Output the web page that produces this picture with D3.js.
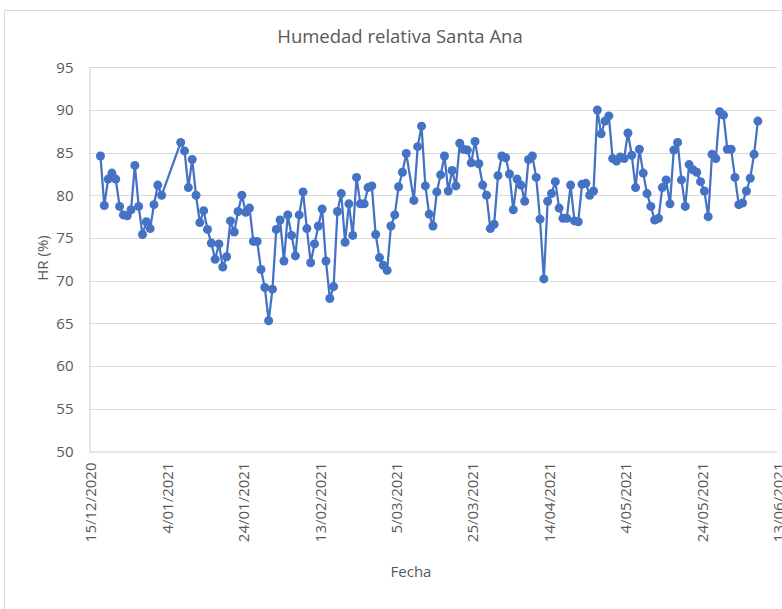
<!DOCTYPE html>
<html>
<head>
<meta charset="utf-8">
<script src="https://cdn.jsdelivr.net/npm/d3@7"></script>
<style>
  body { margin: 0; background: #fff; }
  svg { display: block; font-family: "Open Sans", "Liberation Sans", sans-serif; }
</style>
</head>
<body>
<svg id="chart" width="782" height="609"></svg>
<script>
const WIDTH = 782;
const HEIGHT = 609;
const MARGIN = {top: 67.3, right: 5, bottom: 157.7, left: 89};

// fechas de medición (faltan 4-7 ene y 9 mar)
const fechas = [
  "2020-12-18","2020-12-19","2020-12-20","2020-12-21","2020-12-22","2020-12-23","2020-12-24","2020-12-25",
  "2020-12-26","2020-12-27","2020-12-28","2020-12-29","2020-12-30","2020-12-31",
  "2021-01-01","2021-01-02","2021-01-03",
  "2021-01-08","2021-01-09","2021-01-10","2021-01-11","2021-01-12","2021-01-13","2021-01-14","2021-01-15",
  "2021-01-16","2021-01-17","2021-01-18","2021-01-19","2021-01-20","2021-01-21","2021-01-22","2021-01-23",
  "2021-01-24","2021-01-25","2021-01-26","2021-01-27","2021-01-28","2021-01-29","2021-01-30","2021-01-31",
  "2021-02-01","2021-02-02","2021-02-03","2021-02-04","2021-02-05","2021-02-06","2021-02-07","2021-02-08",
  "2021-02-09","2021-02-10","2021-02-11","2021-02-12","2021-02-13","2021-02-14","2021-02-15","2021-02-16",
  "2021-02-17","2021-02-18","2021-02-19","2021-02-20","2021-02-21","2021-02-22","2021-02-23","2021-02-24",
  "2021-02-25","2021-02-26","2021-02-27","2021-02-28",
  "2021-03-01","2021-03-02","2021-03-03","2021-03-04","2021-03-05","2021-03-06","2021-03-07","2021-03-08",
  "2021-03-10","2021-03-11","2021-03-12","2021-03-13","2021-03-14","2021-03-15","2021-03-16","2021-03-17",
  "2021-03-18","2021-03-19","2021-03-20","2021-03-21","2021-03-22","2021-03-23","2021-03-24","2021-03-25",
  "2021-03-26","2021-03-27","2021-03-28","2021-03-29","2021-03-30","2021-03-31",
  "2021-04-01","2021-04-02","2021-04-03","2021-04-04","2021-04-05","2021-04-06","2021-04-07","2021-04-08",
  "2021-04-09","2021-04-10","2021-04-11","2021-04-12","2021-04-13","2021-04-14","2021-04-15","2021-04-16",
  "2021-04-17","2021-04-18","2021-04-19","2021-04-20","2021-04-21","2021-04-22","2021-04-23","2021-04-24",
  "2021-04-25","2021-04-26","2021-04-27","2021-04-28","2021-04-29","2021-04-30",
  "2021-05-01","2021-05-02","2021-05-03","2021-05-04","2021-05-05","2021-05-06","2021-05-07","2021-05-08",
  "2021-05-09","2021-05-10","2021-05-11","2021-05-12","2021-05-13","2021-05-14","2021-05-15","2021-05-16",
  "2021-05-17","2021-05-18","2021-05-19","2021-05-20","2021-05-21","2021-05-22","2021-05-23","2021-05-24",
  "2021-05-25","2021-05-26","2021-05-27","2021-05-28","2021-05-29","2021-05-30","2021-05-31",
  "2021-06-01","2021-06-02","2021-06-03","2021-06-04","2021-06-05","2021-06-06","2021-06-07","2021-06-08"
];

// humedad relativa (%)
const humedad = [
  84.6,78.8,81.9,82.6,81.9,78.7,77.7,77.6,
  78.3,83.5,78.7,75.4,76.9,76.1,
  78.9,81.2,80.0,
  86.2,85.2,80.9,84.2,80.0,76.8,78.2,76.0,
  74.4,72.5,74.3,71.6,72.8,77.0,75.7,78.1,
  80.0,78.0,78.5,74.6,74.6,71.3,69.2,65.3,
  69.0,76.0,77.1,72.3,77.7,75.3,72.9,77.7,
  80.4,76.1,72.1,74.3,76.4,78.4,72.3,67.9,
  69.3,78.1,80.2,74.5,79.0,75.3,82.1,79.0,
  79.0,80.9,81.1,75.4,
  72.7,71.8,71.2,76.4,77.7,81.0,82.7,84.9,
  79.4,85.7,88.1,81.1,77.8,76.4,80.4,82.4,
  84.6,80.5,82.9,81.1,86.1,85.4,85.3,83.8,
  86.3,83.7,81.2,80.0,76.1,76.6,
  82.3,84.6,84.4,82.5,78.3,81.9,81.2,79.3,
  84.2,84.6,82.1,77.2,70.2,79.3,80.2,81.6,
  78.5,77.3,77.3,81.2,77.0,76.9,81.3,81.4,
  80.0,80.5,90.0,87.2,88.7,89.3,
  84.3,84.0,84.5,84.3,87.3,84.7,80.9,85.4,
  82.6,80.2,78.7,77.1,77.3,80.9,81.8,79.0,
  85.3,86.2,81.8,78.7,83.6,83.0,82.7,81.6,
  80.5,77.5,84.8,84.3,89.8,89.4,85.4,
  85.4,82.1,78.9,79.1,80.5,82.0,84.8,88.7
];

const xTickLabels = ["15/12/2020","4/01/2021","24/01/2021","13/02/2021","5/03/2021",
                     "25/03/2021","14/04/2021","4/05/2021","24/05/2021","13/06/2021"];
const yTicks = [50,55,60,65,70,75,80,85,90,95];

const parseIso = d3.utcParse("%Y-%m-%d");
const parseTick = d3.utcParse("%d/%m/%Y");
const fmtTick = d3.utcFormat("%-d/%m/%Y");

const data = fechas.map((f,i) => ({fecha: parseIso(f), hr: humedad[i]}));
const xTickDates = xTickLabels.map(parseTick);

const svg = d3.select("#chart");

const x = d3.scaleUtc()
  .domain([xTickDates[0], xTickDates[xTickDates.length-1]])
  .range([MARGIN.left, MARGIN.left + 688]);
const y = d3.scaleLinear()
  .domain([50,95])
  .range([HEIGHT - MARGIN.bottom, MARGIN.top]);

// marco del gráfico (solo se ve arriba e izquierda)
svg.append("path")
  .attr("d", "M4.5," + HEIGHT + " V10.5 H" + WIDTH)
  .attr("fill","none").attr("stroke","#d9d9d9").attr("stroke-width",1);

// título
svg.append("text")
  .attr("x", 400).attr("y", 43)
  .attr("text-anchor","middle")
  .attr("fill","#595959")
  .style("font-size","18.5px")
  .text("Humedad relativa Santa Ana");

// rejilla
svg.append("g").selectAll("line")
  .data(yTicks.slice(1))
  .join("line")
  .attr("x1", x.range()[0]).attr("x2", x.range()[1])
  .attr("y1", d => Math.round(y(d)) + 0.5).attr("y2", d => Math.round(y(d)) + 0.5)
  .attr("stroke","#d9d9d9").attr("stroke-width",1);

// eje y
const yAxis = svg.append("g")
  .attr("transform","translate(" + (x.range()[0] + 0.5) + ",0)")
  .call(d3.axisLeft(y).tickValues(yTicks).tickSize(0).tickPadding(16));
yAxis.select(".domain").attr("stroke","#d0d0d0");
yAxis.selectAll("text").attr("fill","#595959").style("font-size","15px")
  .style("font-family","\"Open Sans\", sans-serif");

// eje x
const xAxis = svg.append("g")
  .attr("transform","translate(0," + (Math.round(y(50)) + 0.5) + ")")
  .call(d3.axisBottom(x).tickValues(xTickDates).tickFormat(fmtTick).tickSize(0));
xAxis.select(".domain").attr("stroke","#d0d0d0");
xAxis.selectAll("text")
  .attr("fill","#595959").style("font-size","15px")
  .style("font-family","\"Open Sans\", sans-serif")
  .attr("text-anchor","end")
  .attr("x",-11).attr("y",0).attr("dy","0.35em")
  .attr("transform", "rotate(-90) translate(0,1.5)");

// títulos de ejes
svg.append("text")
  .attr("transform","translate(48,258) rotate(-90)")
  .attr("text-anchor","middle")
  .attr("fill","#595959").style("font-size","15px")
  .text("HR (%)");
svg.append("text")
  .attr("x", 411).attr("y", 577)
  .attr("text-anchor","middle")
  .attr("fill","#595959").style("font-size","15px")
  .text("Fecha");

// serie
const line = d3.line().x(d => x(d.fecha)).y(d => y(d.hr));
svg.append("path")
  .datum(data)
  .attr("d", line)
  .attr("fill","none")
  .attr("stroke","#4472c4")
  .attr("stroke-width",2.25)
  .attr("stroke-linejoin","round");

svg.append("g").selectAll("circle")
  .data(data)
  .join("circle")
  .attr("cx", d => x(d.fecha))
  .attr("cy", d => y(d.hr))
  .attr("r", 4.5)
  .attr("fill","#4472c4");
</script>
</body>
</html>
